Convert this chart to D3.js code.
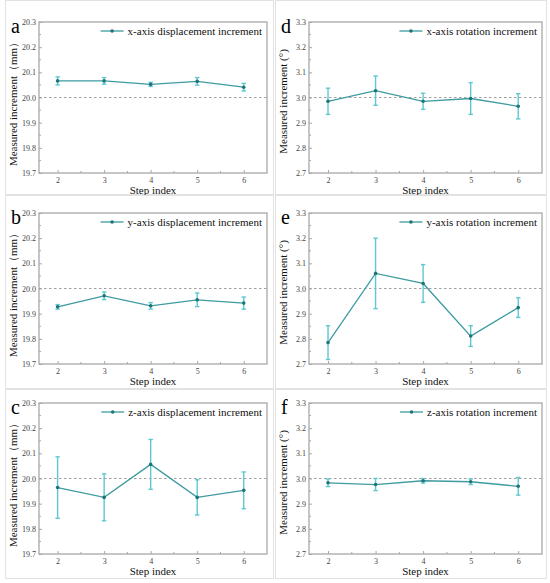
<!DOCTYPE html>
<html>
<head>
<meta charset="utf-8">
<script src="https://cdn.jsdelivr.net/npm/d3@7"></script>
<style>
  body { margin: 0; background: #fff; }
</style>
</head>
<body>
<div id="chart"></div>
<script>
// ---- data ----
const steps = [2, 3, 4, 5, 6];
const xTicks = [2, 3, 4, 5, 6];

const dispTicks = [19.7, 19.8, 19.9, 20.0, 20.1, 20.2, 20.3];
const rotTicks = [2.7, 2.8, 2.9, 3.0, 3.1, 3.2, 3.3];

const xDispMean = [20.066, 20.066, 20.052, 20.064, 20.041];
const xDispErr  = [0.016, 0.013, 0.008, 0.015, 0.015];
const yDispMean = [19.927, 19.971, 19.931, 19.955, 19.942];
const yDispErr  = [0.009, 0.015, 0.013, 0.027, 0.024];
const zDispMean = [19.964, 19.925, 20.056, 19.925, 19.953];
const zDispErr  = [0.122, 0.093, 0.099, 0.070, 0.073];

const xRotMean = [2.985, 3.027, 2.985, 2.996, 2.965];
const xRotErr  = [0.052, 0.058, 0.032, 0.063, 0.050];
const yRotMean = [2.785, 3.060, 3.020, 2.811, 2.924];
const yRotErr  = [0.067, 0.140, 0.075, 0.041, 0.039];
const zRotMean = [2.983, 2.976, 2.991, 2.987, 2.969];
const zRotErr  = [0.015, 0.024, 0.009, 0.011, 0.035];

// ---- layout ----
const W = 550, H = 583;
const serif = "'Times New Roman', 'Liberation Serif', 'DejaVu Serif', serif";
const cols = [{ left: 39, right: 267, frame: [5, 273] }, { left: 309, right: 542, frame: [275, 546] }];
const rows = [{ top: 22, bottom: 173, frame: [0, 194] }, { top: 213, bottom: 364, frame: [195, 388] }, { top: 403, bottom: 554, frame: [389, 578] }];

const panels = [
  { letter: "a", col: 0, row: 0, mean: xDispMean, err: xDispErr, ticks: dispTicks, ref: 20.0, legend: "x-axis displacement increment", ylab: "Measured increment（mm）" },
  { letter: "b", col: 0, row: 1, mean: yDispMean, err: yDispErr, ticks: dispTicks, ref: 20.0, legend: "y-axis displacement increment", ylab: "Measured increment（mm）" },
  { letter: "c", col: 0, row: 2, mean: zDispMean, err: zDispErr, ticks: dispTicks, ref: 20.0, legend: "z-axis displacement increment", ylab: "Measured increment（mm）" },
  { letter: "d", col: 1, row: 0, mean: xRotMean, err: xRotErr, ticks: rotTicks, ref: 3.0, legend: "x-axis rotation increment", ylab: "Measured increment (°)" },
  { letter: "e", col: 1, row: 1, mean: yRotMean, err: yRotErr, ticks: rotTicks, ref: 3.0, legend: "y-axis rotation increment", ylab: "Measured increment (°)" },
  { letter: "f", col: 1, row: 2, mean: zRotMean, err: zRotErr, ticks: rotTicks, ref: 3.0, legend: "z-axis rotation increment", ylab: "Measured increment (°)" },
];

const lineColor = "#3d9ba0";
const errColor = "#5ec8d2";
const dotColor = "#1d7479";
const boxColor = "#a8a8a8";

const svg = d3.select("#chart").append("svg")
  .attr("width", W)
  .attr("height", H)
  .attr("font-family", serif);

function draw_panel(p) {
  const c = cols[p.col], r = rows[p.row];

  // outer frame of the panel
  svg.append("rect")
    .attr("x", c.frame[0] + 0.5)
    .attr("y", r.frame[0] + 0.5)
    .attr("width", c.frame[1] - c.frame[0])
    .attr("height", r.frame[1] - r.frame[0])
    .style("fill", "none")
    .style("stroke", "#e2e2e2")
    .style("stroke-width", 1);

  const x = d3.scaleLinear().domain([1.6, 6.5]).range([c.left, c.right]);
  const y = d3.scaleLinear().domain([p.ticks[0], p.ticks[p.ticks.length - 1]]).range([r.bottom, r.top]);

  const g = svg.append("g");

  // minor ticks
  const xMinor = d3.range(2.5, 6.5, 1);
  const yMinor = p.ticks.slice(0, -1).map(t => t + 0.05);

  g.selectAll(".xminor").data(xMinor).enter().append("line")
    .attr("x1", d => x(d)).attr("x2", d => x(d))
    .attr("y1", r.bottom).attr("y2", r.bottom - 2)
    .style("stroke", boxColor).style("stroke-width", 1);
  g.selectAll(".yminor").data(yMinor).enter().append("line")
    .attr("x1", c.left).attr("x2", c.left + 2)
    .attr("y1", d => y(d)).attr("y2", d => y(d))
    .style("stroke", boxColor).style("stroke-width", 1);

  // major ticks (inward) and labels via d3 axes
  const xAxis = d3.axisBottom(x).tickValues(xTicks).tickSize(-3).tickPadding(4).tickFormat(d3.format("d"));
  const yAxis = d3.axisLeft(y).tickValues(p.ticks).tickSize(-3).tickPadding(3).tickFormat(d3.format(".1f"));

  const gx = g.append("g").attr("transform", `translate(0,${r.bottom})`).call(xAxis);
  const gy = g.append("g").attr("transform", `translate(${c.left},0)`).call(yAxis);
  [gx, gy].forEach(a => {
    a.attr("font-family", serif).attr("font-size", 8);
    a.select(".domain").remove();
    a.selectAll(".tick line").style("stroke", boxColor).style("stroke-width", 1);
    a.selectAll(".tick text").style("fill", "#444");
  });

  // plot box
  g.append("rect")
    .attr("x", c.left).attr("y", r.top)
    .attr("width", c.right - c.left).attr("height", r.bottom - r.top)
    .style("fill", "none").style("stroke", boxColor).style("stroke-width", 1.3);

  // reference line
  g.append("line")
    .attr("x1", c.left).attr("x2", c.right)
    .attr("y1", y(p.ref)).attr("y2", y(p.ref))
    .style("stroke", "#a0a0a0").style("stroke-width", 1)
    .style("stroke-dasharray", "2.5,2.5");

  const pts = steps.map((s, i) => ({ s, m: p.mean[i], e: p.err[i] }));

  // error bars
  const eb = g.selectAll(".eb").data(pts).enter().append("g");
  eb.append("line")
    .attr("x1", d => x(d.s)).attr("x2", d => x(d.s))
    .attr("y1", d => y(d.m - d.e)).attr("y2", d => y(d.m + d.e))
    .style("stroke", errColor).style("stroke-width", 1.4);
  [-1, 1].forEach(sgn => {
    eb.append("line")
      .attr("x1", d => x(d.s) - 2.2).attr("x2", d => x(d.s) + 2.2)
      .attr("y1", d => y(d.m + sgn * d.e)).attr("y2", d => y(d.m + sgn * d.e))
      .style("stroke", errColor).style("stroke-width", 1.4);
  });

  // mean line
  const line = d3.line().x(d => x(d.s)).y(d => y(d.m));
  g.append("path").datum(pts)
    .attr("d", line)
    .style("fill", "none").style("stroke", lineColor).style("stroke-width", 1.3);

  g.selectAll(".dot").data(pts).enter().append("circle")
    .attr("cx", d => x(d.s)).attr("cy", d => y(d.m)).attr("r", 1.8)
    .style("fill", dotColor);

  // legend
  const lgText = g.append("text")
    .attr("x", c.right - 5).attr("y", r.top + 12.5)
    .style("text-anchor", "end")
    .style("font-size", "11px")
    .style("fill", "#111")
    .text(p.legend);
  const tw = lgText.node().getComputedTextLength();
  const lx1 = c.right - 5 - tw - 27, lx2 = c.right - 5 - tw - 4;
  g.append("line")
    .attr("x1", lx1).attr("x2", lx2)
    .attr("y1", r.top + 9).attr("y2", r.top + 9)
    .style("stroke", lineColor).style("stroke-width", 1.3);
  g.append("circle")
    .attr("cx", (lx1 + lx2) / 2).attr("cy", r.top + 9).attr("r", 1.8)
    .style("fill", dotColor);

  // axis titles
  g.append("text")
    .attr("x", (c.left + c.right) / 2).attr("y", r.bottom + 21)
    .style("text-anchor", "middle")
    .style("font-size", "11px")
    .style("fill", "#111")
    .text("Step index");

  g.append("text")
    .attr("transform", `translate(${c.left - 22},${(r.top + r.bottom) / 2 + 4}) rotate(-90)`)
    .style("text-anchor", "middle")
    .style("font-size", "11px")
    .style("fill", "#111")
    .text(p.ylab);

  // panel letter
  g.append("text")
    .attr("x", c.frame[0] + 6).attr("y", r.top + 11)
    .style("font-size", "20px")
    .style("fill", "#000")
    .text(p.letter);
}

panels.forEach(draw_panel);
</script>
</body>
</html>
